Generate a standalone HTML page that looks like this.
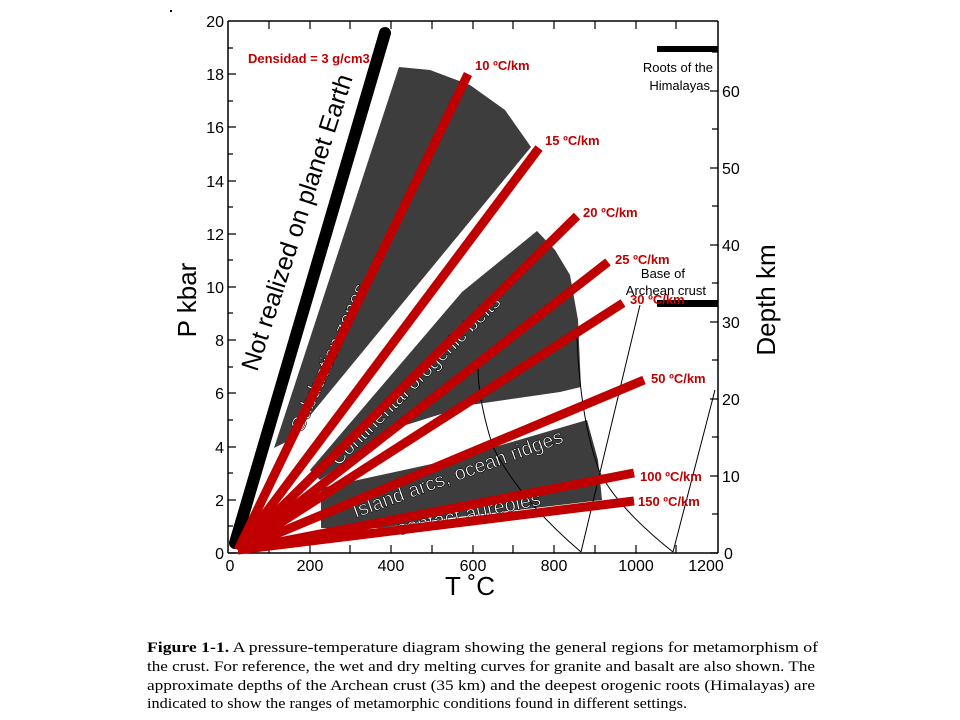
<!DOCTYPE html>
<html><head><meta charset="utf-8"><style>
html,body{margin:0;padding:0;background:#fff;}
svg{display:block;}
</style></head><body>
<svg width="960" height="720" viewBox="0 0 960 720" xmlns="http://www.w3.org/2000/svg">
<rect width="960" height="720" fill="#fff"/>
<g fill="#3d3d3d">
<polygon points="274,448 399,67 430,70 470,85 505,110 531,147 290,440"/>
<polygon points="310,470 462,292 537,231 555,250 570,275 578,320 581,387 560,392 470,405 390,430 320,480"/>
<polygon points="321,528 321,488 450,460 587,420 598,460 602,500 560,505 450,518 380,528"/>
</g>
<g stroke="#000" stroke-width="1.5" fill="none">
<line x1="228" y1="21" x2="718" y2="21"/>
<line x1="228" y1="21" x2="228" y2="553"/>
<line x1="228" y1="553" x2="718" y2="553"/>
<line x1="718" y1="21" x2="718" y2="553"/>
</g>
<g stroke="#000" stroke-width="1.2">
<path d="M228 553h8M228 526h5M228 500h8M228 473h5M228 447h8M228 420h5M228 393h8M228 367h5M228 340h8M228 313h5M228 287h8M228 260h5M228 234h8M228 207h5M228 181h8M228 154h5M228 127h8M228 101h5M228 74h8M228 48h5"/>
<path d="M269 553v-8M310 553v-8M350 553v-8M391 553v-8M432 553v-8M473 553v-8M513 553v-8M554 553v-8M595 553v-8M636 553v-8M676 553v-8"/>
<path d="M269 21v8M310 21v8M350 21v8M391 21v8M432 21v8M473 21v8M513 21v8M554 21v8M595 21v8M636 21v8M676 21v8"/>
<path d="M718 553h-8M718 514h-6M718 476h-8M718 437h-6M718 399h-8M718 360h-6M718 322h-8M718 283h-6M718 245h-8M718 206h-6M718 168h-8M718 129h-6M718 91h-8M718 52h-6"/>
</g>
<g stroke="#000" stroke-width="1" fill="none">
<path d="M581,552 Q520,500 493,447 Q478,400 478,367"/>
<line x1="581" y1="552" x2="640" y2="305"/>
<path d="M673,552 Q620,510 600,473 Q580,420 577,337"/>
<line x1="673" y1="552" x2="715" y2="390"/>
</g>
<rect x="657" y="46" width="61" height="6" fill="#000"/>
<rect x="657" y="300" width="61" height="7" fill="#000"/>
<g font-family="Liberation Sans, sans-serif" font-size="16" fill="#000">
<g text-anchor="end">
<text x="224" y="559">0</text><text x="224" y="506">2</text><text x="224" y="453">4</text><text x="224" y="399">6</text><text x="224" y="346">8</text><text x="224" y="293">10</text><text x="224" y="240">12</text><text x="224" y="187">14</text><text x="224" y="133">16</text><text x="224" y="80">18</text><text x="224" y="27">20</text>
</g>
<g text-anchor="middle">
<text x="230" y="571">0</text><text x="310" y="571">200</text><text x="391" y="571">400</text><text x="473" y="571">600</text><text x="554" y="571">800</text><text x="636" y="571">1000</text><text x="706" y="571">1200</text>
</g>
<text x="724" y="559">0</text><text x="722" y="482">10</text><text x="722" y="405">20</text><text x="722" y="328">30</text><text x="722" y="251">40</text><text x="722" y="174">50</text><text x="722" y="97">60</text>
</g>
<g font-family="Liberation Sans, sans-serif" font-size="13" fill="#000" text-anchor="end">
<text x="713" y="72">Roots of the</text><text x="710" y="90">Himalayas</text>
<text x="685" y="278">Base of</text><text x="706" y="295">Archean crust</text>
</g>
<g font-family="Liberation Sans, sans-serif" font-size="26" fill="#000">
<text transform="translate(196,300) rotate(-90)" text-anchor="middle">P  kbar</text>
<text transform="translate(775,300) rotate(-90)" text-anchor="middle">Depth  km</text>
<text x="470" y="595" text-anchor="middle">T ˚C</text>
</g>
<text transform="translate(305,225) rotate(-72)" font-family="Liberation Sans, sans-serif" font-size="25" text-anchor="middle" fill="#000">Not realized on planet Earth</text>
<g font-family="Liberation Sans, sans-serif" font-size="20" fill="#fff" stroke="#000" stroke-width="0.6" text-anchor="middle">
<text transform="translate(335,360) rotate(-66)">Subduction zones</text>
<text transform="translate(420,385) rotate(-45)">Continental orogenic belts</text>
<text transform="translate(460,480) rotate(-20)">Island arcs, ocean ridges</text>
<text transform="translate(470,520) rotate(-12)">contact aureoles</text>
</g>
<line x1="235" y1="543" x2="385" y2="33" stroke="#000" stroke-width="12" stroke-linecap="round"/>
<g stroke="#c00000" stroke-width="9">
<line x1="238" y1="550" x2="468" y2="74"/>
<line x1="238" y1="550" x2="539" y2="148"/>
<line x1="238" y1="550" x2="577" y2="216"/>
<line x1="238" y1="550" x2="608" y2="262"/>
<line x1="238" y1="550" x2="623" y2="303"/>
<line x1="238" y1="550" x2="644" y2="380"/>
<line x1="238" y1="550" x2="634" y2="473"/>
<line x1="238" y1="550" x2="634" y2="501"/>
</g>
<g font-family="Liberation Sans, sans-serif" font-size="13" font-weight="bold" fill="#c00000">
<text x="248" y="63">Densidad = 3 g/cm3</text>
<text x="475" y="70">10 ºC/km</text>
<text x="545" y="145">15 ºC/km</text>
<text x="583" y="217">20 ºC/km</text>
<text x="615" y="264">25 ºC/km</text>
<text x="630" y="304">30 ºC/km</text>
<text x="651" y="383">50 ºC/km</text>
<text x="640" y="481">100 ºC/km</text>
<text x="638" y="506">150 ºC/km</text>
</g>
<g font-family="Liberation Serif, serif" font-size="15" fill="#000">
<text x="147" y="652" textLength="671" lengthAdjust="spacingAndGlyphs"><tspan font-weight="bold">Figure  1-1.</tspan> A pressure-temperature diagram showing the general regions for metamorphism of</text>
<text x="147" y="671" textLength="668" lengthAdjust="spacingAndGlyphs">the crust.  For reference, the wet and dry melting curves for granite and basalt are also shown.  The</text>
<text x="147" y="690" textLength="668" lengthAdjust="spacingAndGlyphs">approximate depths of the Archean crust (35 km) and the deepest orogenic roots (Himalayas) are</text>
<text x="147" y="708" textLength="540" lengthAdjust="spacingAndGlyphs">indicated to show the ranges of metamorphic conditions found in different settings.</text>
</g>
<rect x="170" y="10" width="2" height="2" fill="#000"/>
</svg>
</body></html>
